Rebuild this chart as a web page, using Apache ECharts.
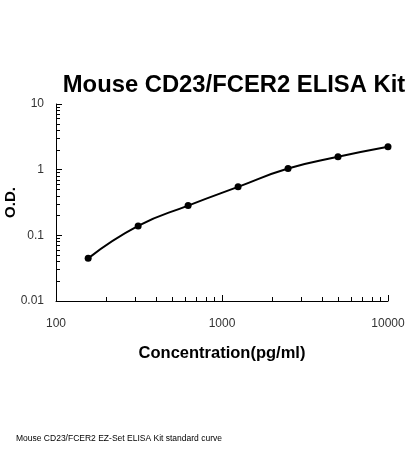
<!DOCTYPE html>
<html><head><meta charset="utf-8">
<script src="https://cdn.jsdelivr.net/npm/echarts@6/dist/echarts.min.js"></script>
<style>html,body{margin:0;padding:0;background:#fff}#c{width:420px;height:450px}</style>
</head><body><div id="c"></div>
<script>
const concentrations = [156.25, 312.5, 625, 1250, 2500, 5000, 10000];
const odValues = [0.0446, 0.139, 0.284, 0.547, 1.04, 1.57, 2.23];
const xTickLabels = [100, 1000, 10000];
const yTickLabels = [0.01, 0.1, 1, 10];
const titleText = 'Mouse CD23/FCER2 ELISA Kit';
const xName = 'Concentration(pg/ml)';
const yName = 'O.D.';
const caption = 'Mouse CD23/FCER2 EZ-Set ELISA Kit standard curve';

function minorTicks(lo, hi){
  const out=[];
  for(let d=lo; d<hi; d*=10){ for(let k=2;k<=9;k++) out.push(+(d*k).toPrecision(6)); }
  return out;
}
const xMinor = minorTicks(100, 10000);
const yMinor = minorTicks(0.01, 10);

const chart = echarts.init(document.getElementById('c'));
const grid = {left:56, right:32, top:104, bottom:149, containLabel:false, outerBoundsMode:'none'};
const axisFont = {fontFamily:'Liberation Sans', fontSize:12, color:'#333'};
chart.setOption({
  animation:false,
  title:[{text:titleText, left:229, top:68, textAlign:'center',
    textStyle:{fontFamily:'Liberation Sans', fontWeight:'bold', fontSize:23.8, color:'#000'}},
    {text:caption, left:11, top:429, textStyle:{fontFamily:'Liberation Sans', fontWeight:'normal', fontSize:8.5, color:'#000'}}],
  grid:grid,
  xAxis:[{type:'log', min:100, max:10000, logBase:10,
    name:xName, nameLocation:'middle', nameGap:44, nameMoveOverlap:false,
    nameTextStyle:{fontFamily:'Liberation Sans', fontWeight:'bold', fontSize:16.5, color:'#000'},
    axisLine:{show:true, lineStyle:{color:'#000', width:1}},
    axisTick:{show:true, inside:true, length:6, lineStyle:{color:'#000'}, customValues:xTickLabels},
    axisLabel:Object.assign({margin:17, customValues:xTickLabels, formatter:v=>String(v)}, axisFont),
    splitLine:{show:false}},
   {type:'log', min:100, max:10000, logBase:10, position:'bottom',
    axisLine:{show:false},
    axisTick:{show:true, inside:true, length:4, lineStyle:{color:'#000'}, customValues:xMinor},
    axisLabel:{show:false}, splitLine:{show:false}}],
  yAxis:[{type:'log', min:0.01, max:10, logBase:10,
    name:yName, nameLocation:'middle', nameGap:38, nameRotate:90, nameMoveOverlap:false,
    nameTextStyle:{fontFamily:'Liberation Sans', fontWeight:'bold', fontSize:15, color:'#000'},
    axisLine:{show:true, lineStyle:{color:'#000', width:1}},
    axisTick:{show:true, inside:true, length:6, lineStyle:{color:'#000'}, customValues:yTickLabels},
    axisLabel:Object.assign({margin:12, customValues:yTickLabels, formatter:v=>String(v)}, axisFont),
    splitLine:{show:false}},
   {type:'log', min:0.01, max:10, logBase:10, position:'left',
    axisLine:{show:false},
    axisTick:{show:true, inside:true, length:4, lineStyle:{color:'#000'}, customValues:yMinor},
    axisLabel:{show:false}, splitLine:{show:false}}],
  series:[{type:'line', smooth:true, data:concentrations.map((c,i)=>[c, odValues[i]]),
    symbol:'circle', symbolSize:7, itemStyle:{color:'#000'},
    lineStyle:{color:'#000', width:2}}]
});
</script></body></html>
